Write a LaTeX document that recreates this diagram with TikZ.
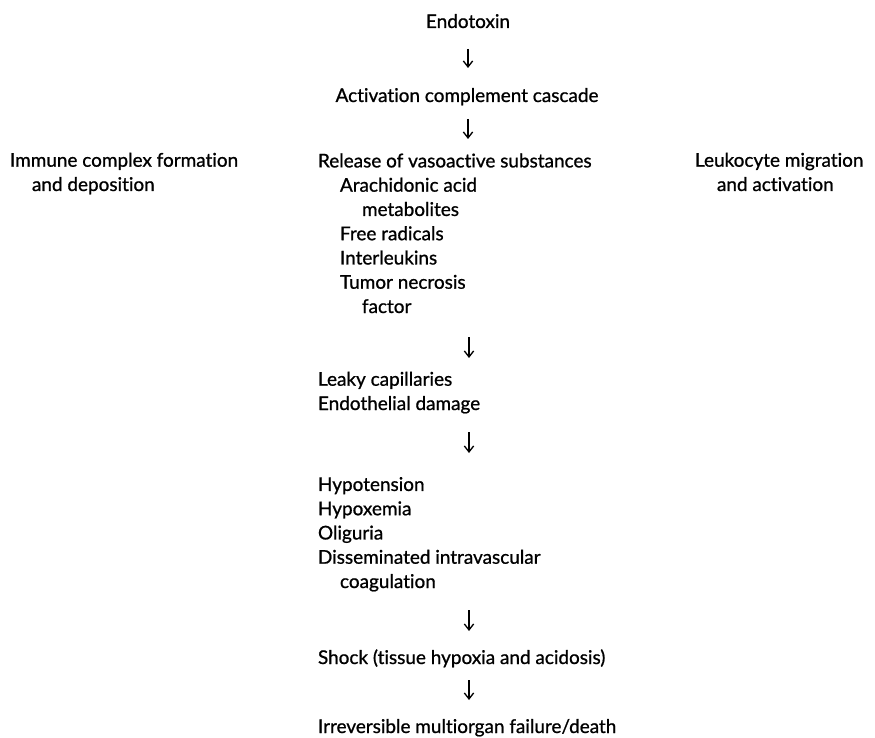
\documentclass[tikz,border=0pt]{standalone}
\usepackage{fontspec}
\setmainfont{Lato}[FakeBold=0.9,RawFeature={-liga;-clig;-dlig;-calt}]
\usetikzlibrary{arrows.meta}
\newlength{\indA}\setlength{\indA}{16.5pt}
\begin{document}
\begin{tikzpicture}[x=0.75pt,y=-0.75pt,
  txt/.style={inner sep=0pt, outer sep=0pt, align=left, anchor=base west,
    font=\fontsize{14.2}{18.2}\selectfont},
  ctr/.style={txt, anchor=base},
  arr/.style={line width=1pt, -{Straight Barb[length=4.5pt,width=7pt,line width=1pt]}}]
\useasboundingbox (0,0) rectangle (875,738);

% multi-line nodes are placed by the baseline of their last line
\node[ctr] (endo) at (468,28) {Endotoxin};
\node[ctr] (act) at (467,102) {Activation complement cascade};
\node[txt] (immune) at (10,191) {Immune complex formation\\\hspace*{\indA}and deposition};
\node[txt] (release) at (318,313) {Release of vasoactive substances\\
  \hspace*{\indA}Arachidonic acid\\
  \hspace*{2\indA}metabolites\\
  \hspace*{\indA}Free radicals\\
  \hspace*{\indA}Interleukins\\
  \hspace*{\indA}Tumor necrosis\\
  \hspace*{2\indA}factor};
\node[txt] (leuko) at (695,191) {Leukocyte migration\\\hspace*{\indA}and activation};
\node[txt] (leaky) at (318,410) {Leaky capillaries\\Endothelial damage};
\node[txt] (hypo) at (318,588) {Hypotension\\Hypoxemia\\Oliguria\\Disseminated intravascular\\\hspace*{\indA}coagulation};
\node[txt] (shock) at (318,664) {Shock (tissue hypoxia and acidosis)};
\node[txt] (irrev) at (318,733) {Irreversible multiorgan failure/death};

\coordinate (a1s) at (468,49);  \coordinate (a1e) at (468,68);
\coordinate (a2s) at (468,119); \coordinate (a2e) at (468,139);
\coordinate (a3s) at (469,337); \coordinate (a3e) at (469,358);
\coordinate (a4s) at (469,432); \coordinate (a4e) at (469,453);
\coordinate (a5s) at (469,610); \coordinate (a5e) at (469,631);
\coordinate (a6s) at (469,680); \coordinate (a6e) at (469,700);
\foreach \i in {1,...,6} \draw[arr] (a\i s) -- (a\i e);
\end{tikzpicture}
\end{document}
